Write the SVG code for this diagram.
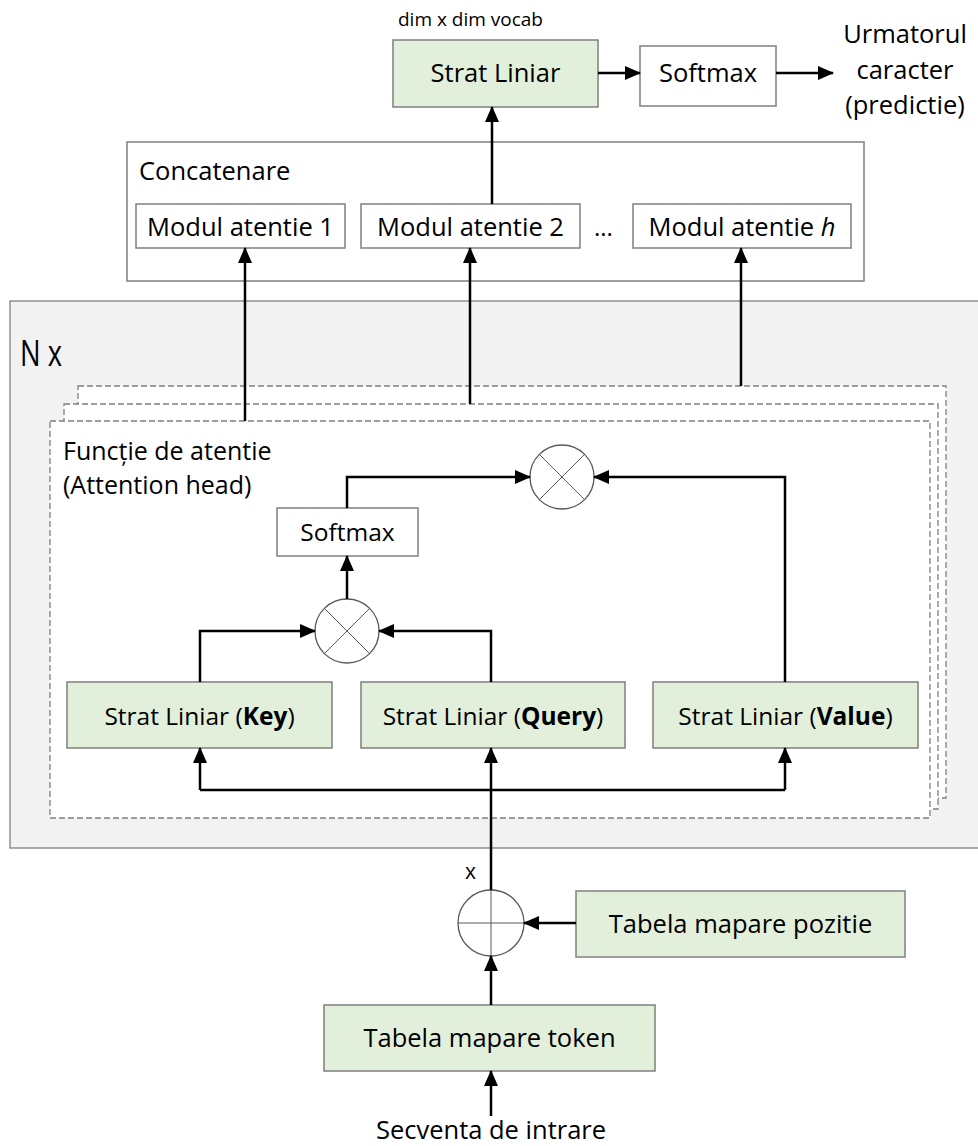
<svg xmlns="http://www.w3.org/2000/svg" width="978" height="1146" viewBox="0 0 978 1146">
<style>
text{font-family:"Open Sans","Noto Sans","Liberation Sans",sans-serif;fill:#000}
.g{fill:#E2EFDA;stroke:#7f7f7f;stroke-width:1.5}
.w{fill:#fff;stroke:#7f7f7f;stroke-width:1.5}
.d{fill:#fff;stroke:#7f7f7f;stroke-width:1.3;stroke-dasharray:6 3}
.c{fill:#fff;stroke:#595959;stroke-width:1.3}
.cx{stroke:#595959;stroke-width:1}
.e{fill:none;stroke:#000;stroke-width:2.5}
.a{marker-end:url(#ah)}
.t{font-size:25.5px;text-anchor:middle}
.s{font-size:24.5px;text-anchor:middle}
</style>
<defs>
<marker id="ah" markerUnits="userSpaceOnUse" markerWidth="16" markerHeight="14" refX="15" refY="7" orient="auto">
<path d="M0,0 L16,7 L0,14 z" fill="#000"/>
</marker>
</defs>
<rect width="978" height="1146" fill="#fff"/>

<g id="nx">
<rect x="10" y="301" width="990" height="547" fill="#F2F2F2" stroke="#7f7f7f" stroke-width="1.3"/>
<text x="20" y="366" font-size="37" textLength="42" lengthAdjust="spacingAndGlyphs">N x</text>
</g>

<g id="head-stack">
<rect class="d" x="78" y="386" width="868" height="412"/>
<rect class="d" x="64" y="404" width="874" height="405"/>
<rect class="d" x="50" y="421" width="880" height="397"/>
<text x="63" y="460" font-size="25">Funcție de atentie</text>
<text x="63" y="494" font-size="25">(Attention head)</text>
</g>

<g id="strat-top">
<rect class="g" x="393" y="40" width="205" height="67"/>
<text class="t" x="495.5" y="82">Strat Liniar</text>
<text x="398" y="26" font-size="19">dim x dim vocab</text>
</g>
<g id="softmax-top">
<rect class="w" x="640" y="46" width="136" height="60"/>
<text class="t" x="708" y="82">Softmax</text>
</g>
<g id="output">
<text class="t" x="905" y="43">Urmatorul</text>
<text class="t" x="905" y="79">caracter</text>
<text class="t" x="905" y="114">(predictie)</text>
</g>

<g id="concat">
<rect class="w" x="127" y="142" width="737" height="139"/>
<text x="139" y="180" font-size="25.5">Concatenare</text>
</g>
<g id="mod1">
<rect class="w" x="136" y="204" width="209" height="44"/>
<text class="t" x="240.5" y="236">Modul atentie 1</text>
</g>
<g id="mod2">
<rect class="w" x="361" y="204" width="219" height="44"/>
<text class="t" x="470.5" y="236">Modul atentie 2</text>
</g>
<text x="594" y="236" font-size="24">...</text>
<g id="modh">
<rect class="w" x="633" y="204" width="218" height="44"/>
<text class="t" x="742" y="236">Modul atentie <tspan font-style="italic">h</tspan></text>
</g>

<g id="softmax-in">
<rect class="w" x="277" y="508" width="141" height="48"/>
<text class="s" x="347.5" y="541">Softmax</text>
</g>
<g id="mul-top">
<circle class="c" cx="562" cy="477" r="32"/>
<path class="cx" d="M539.4,454.4 L584.6,499.6 M584.6,454.4 L539.4,499.6"/>
</g>
<g id="mul-low">
<circle class="c" cx="347" cy="631" r="32"/>
<path class="cx" d="M324.4,608.4 L369.6,653.6 M369.6,608.4 L324.4,653.6"/>
</g>
<g id="key">
<rect class="g" x="67" y="682" width="265" height="66"/>
<text class="s" x="199.5" y="725">Strat Liniar (<tspan font-weight="bold">Key</tspan>)</text>
</g>
<g id="query">
<rect class="g" x="361" y="682" width="264" height="66"/>
<text class="s" x="493" y="725">Strat Liniar (<tspan font-weight="bold">Query</tspan>)</text>
</g>
<g id="value">
<rect class="g" x="653" y="682" width="265" height="66"/>
<text class="s" x="785.5" y="725">Strat Liniar (<tspan font-weight="bold">Value</tspan>)</text>
</g>

<g id="plus">
<circle class="c" cx="491" cy="923" r="33"/>
<path class="cx" d="M458,923 L524,923 M491,890 L491,956"/>
</g>
<text x="465" y="879" font-size="21">x</text>
<g id="pos">
<rect class="g" x="576" y="891" width="329" height="66"/>
<text class="t" x="740.5" y="933">Tabela mapare pozitie</text>
</g>
<g id="tok">
<rect class="g" x="324" y="1005" width="331" height="66"/>
<text class="t" x="489.5" y="1047">Tabela mapare token</text>
</g>
<text class="t" x="491" y="1139">Secventa de intrare</text>

<g id="connectors">
<path class="e a" d="M598,73 L640,73"/>
<path class="e a" d="M776,73 L833,73"/>
<path class="e a" d="M492,204 L492,107"/>
<path class="e a" d="M245,421 L245,248"/>
<path class="e a" d="M470,404 L470,248"/>
<path class="e a" d="M741,386 L741,248"/>
<path class="e a" d="M347,508 L347,477 L530,477"/>
<path class="e a" d="M785,682 L785,477 L594,477"/>
<path class="e a" d="M347,599 L347,556"/>
<path class="e a" d="M200,682 L200,631 L315,631"/>
<path class="e a" d="M491,682 L491,631 L379,631"/>
<path class="e a" d="M491,890 L491,748"/>
<path class="e" d="M200,790 L785,790"/>
<path class="e a" d="M200,790 L200,748"/>
<path class="e a" d="M785,790 L785,748"/>
<path class="e a" d="M576,923 L524,923"/>
<path class="e a" d="M491,1005 L491,956"/>
<path class="e a" d="M491,1116 L491,1071"/>
</g>
</svg>
